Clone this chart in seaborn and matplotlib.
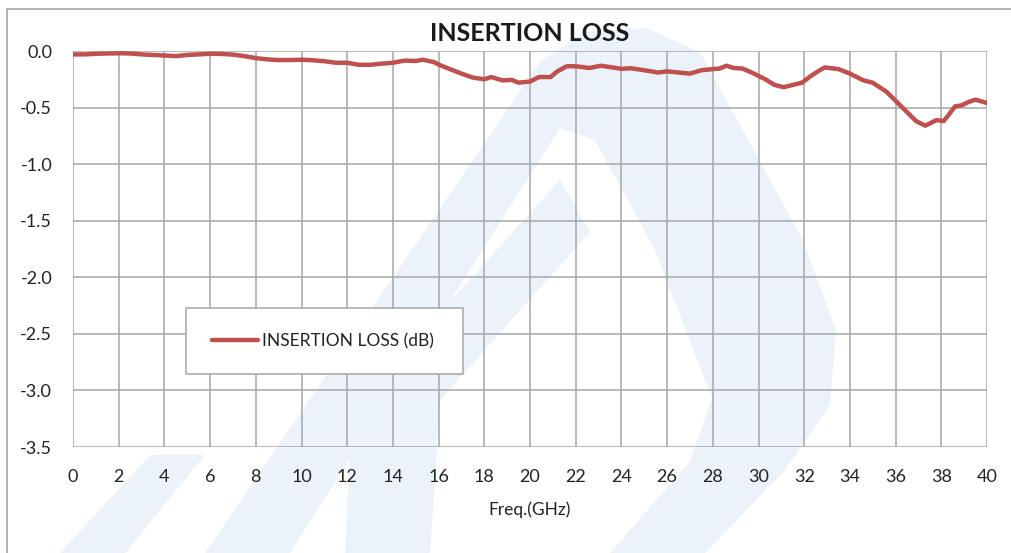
import numpy as np
import pandas as pd
import seaborn as sns
import matplotlib.pyplot as plt
from matplotlib.patches import Polygon, Rectangle

# data
freq_ghz = [0, 0.5, 1, 1.5, 2, 2.5, 3, 3.5, 4, 4.5, 5, 5.5, 6, 6.5, 7, 7.5,
            8, 8.5, 9, 9.5, 10, 10.5, 11, 11.5, 12, 12.5, 13, 13.5, 14, 14.5,
            15, 15.3, 15.8, 16, 16.5, 17, 17.5, 18, 18.3, 18.8, 19.2, 19.5,
            20, 20.4, 20.9, 21.2, 21.6, 22, 22.6, 23.1, 23.6, 24, 24.4, 25,
            25.6, 26, 26.5, 27, 27.5, 28, 28.3, 28.6, 28.9, 29.3, 29.7, 30,
            30.3, 30.7, 31.1, 31.5, 31.9, 32.3, 32.6, 32.9, 33.5, 34, 34.6,
            35, 35.6, 36, 36.5, 36.9, 37.3, 37.8, 38.1, 38.3, 38.6, 38.9,
            39.2, 39.5, 40]
loss_db = [-0.03, -0.03, -0.025, -0.022, -0.02, -0.022, -0.03, -0.035, -0.04,
           -0.045, -0.035, -0.03, -0.024, -0.026, -0.032, -0.045, -0.063,
           -0.074, -0.08, -0.08, -0.077, -0.082, -0.09, -0.104, -0.104,
           -0.122, -0.122, -0.112, -0.104, -0.085, -0.088, -0.077, -0.098,
           -0.12, -0.16, -0.2, -0.235, -0.25, -0.23, -0.26, -0.255, -0.28,
           -0.27, -0.23, -0.23, -0.18, -0.135, -0.135, -0.15, -0.13, -0.145,
           -0.158, -0.152, -0.17, -0.19, -0.18, -0.19, -0.2, -0.17, -0.16,
           -0.155, -0.13, -0.15, -0.155, -0.19, -0.22, -0.25, -0.30, -0.32,
           -0.30, -0.28, -0.22, -0.18, -0.145, -0.16, -0.2, -0.26, -0.28,
           -0.36, -0.44, -0.54, -0.62, -0.66, -0.61, -0.62, -0.57, -0.49,
           -0.48, -0.45, -0.43, -0.46]
x_ticks = list(range(0, 41, 2))
y_ticks = [0.0, -0.5, -1.0, -1.5, -2.0, -2.5, -3.0, -3.5]
series_name = 'INSERTION LOSS (dB)'

df = pd.DataFrame({'Freq': freq_ghz, 'Loss': loss_db, 'Series': series_name})

sns.set_theme(style='white')
plt.rcParams['font.family'] = ['Lato', 'DejaVu Sans']

W, H = 1011, 553
fig = plt.figure(figsize=(W / 100, H / 100), dpi=100)

# faint watermark logo behind the chart (figure pixels, y measured from top)
def px(pts):
    return [(x / W, 1 - y / H) for x, y in pts]

wm = '#ebf2f9'
shapes = [
    [(205, 553), (540, 62), (585, 32), (645, 28), (700, 52), (803, 240),
     (836, 330), (830, 405), (785, 470), (705, 553), (610, 553), (690, 462),
     (712, 398), (655, 250), (595, 140), (560, 128), (290, 553)],
    [(345, 553), (352, 410), (560, 180), (590, 232), (440, 400), (430, 553)],
    [(60, 553), (150, 455), (205, 455), (125, 553)],
]
for s in shapes:
    fig.add_artist(Polygon(px(s), closed=True, transform=fig.transFigure,
                           facecolor=wm, edgecolor='none', zorder=-10))

# outer chart frame
fig.add_artist(Rectangle((7 / W, -0.05), 1.1, 1 - 9 / H + 0.05,
                         transform=fig.transFigure, fill=False,
                         edgecolor='#a6a6a6', linewidth=1.2, zorder=-5))

ax = fig.add_axes([73 / W, 1 - 447 / H, 914 / W, 396 / H])
ax.patch.set_alpha(0)
ax.set_zorder(1)

sns.lineplot(data=df, x='Freq', y='Loss', hue='Series', palette=['#c0504d'],
             linewidth=3.2, ax=ax, zorder=3)

ax.set_xlim(0, 40)
ax.set_ylim(-3.5, 0)
ax.set_xticks(x_ticks)
ax.set_yticks(y_ticks)
ax.set_yticklabels([f'{v:.1f}' for v in y_ticks])
ax.grid(True, color='#a6a6a6', linewidth=1.1)
for sp in ax.spines.values():
    sp.set_visible(False)
ax.tick_params(axis='x', length=0, pad=16, labelsize=13, colors='#222222')
ax.tick_params(axis='y', length=0, pad=15, labelsize=13, colors='#222222')

ax.set_title('INSERTION LOSS', fontsize=18, fontweight='bold', pad=7,
             color='#1a1a1a')
ax.set_xlabel('Freq.(GHz)', fontsize=12.5, labelpad=12, color='#222222')
ax.set_ylabel('')

leg = ax.legend(loc='lower left', bbox_to_anchor=(0.124, 0.184, 0.303, 0.192),
                mode='expand', fontsize=12.5, frameon=True, fancybox=False,
                borderpad=1.45, handlelength=2.7, handletextpad=0.2,
                borderaxespad=0)
leg.get_frame().set_edgecolor('#a6a6a6')
leg.get_frame().set_linewidth(1.1)
leg.get_frame().set_facecolor('white')
leg.get_frame().set_alpha(1)
for t in leg.get_texts():
    t.set_color('#222222')
for ln in leg.get_lines():
    ln.set_linewidth(3.2)

fig.savefig('out.png', dpi=100)
